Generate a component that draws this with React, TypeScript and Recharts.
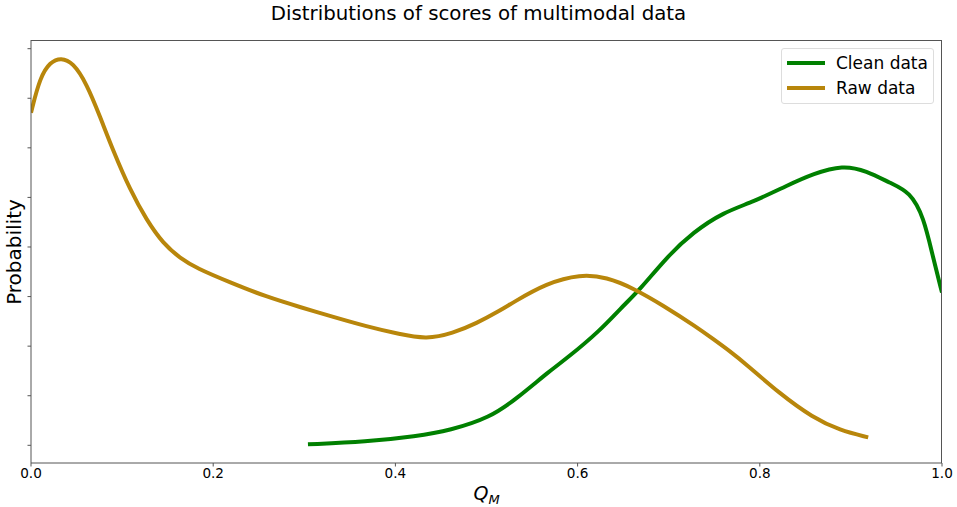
import { LineChart, Line, XAxis, YAxis } from "recharts";

// x positions (Q_M) and estimated density in tick units
const rawX = [0, 0.01, 0.021, 0.033, 0.046, 0.061, 0.076, 0.09, 0.109, 0.127, 0.145, 0.164, 0.182, 0.218, 0.259, 0.295, 0.332, 0.368, 0.405, 0.434, 0.463, 0.489, 0.515, 0.529, 0.566, 0.603, 0.632, 0.661, 0.694, 0.731, 0.749, 0.767, 0.786, 0.822, 0.858, 0.888, 0.919];
const rawY = [6.71, 7.43, 7.73, 7.82, 7.72, 7.3, 6.62, 5.95, 5.14, 4.54, 4.07, 3.77, 3.57, 3.29, 2.99, 2.79, 2.59, 2.4, 2.24, 2.14, 2.26, 2.46, 2.72, 2.88, 3.27, 3.45, 3.39, 3.17, 2.82, 2.38, 2.14, 1.9, 1.62, 1.04, 0.56, 0.3, 0.16];

const cleanX = [0.304, 0.368, 0.423, 0.46, 0.504, 0.533, 0.57, 0.588, 0.625, 0.647, 0.668, 0.698, 0.727, 0.76, 0.793, 0.83, 0.859, 0.891, 0.917, 0.943, 0.965, 0.98, 0.99, 1.0];
const cleanY = [0.02, 0.07, 0.18, 0.3, 0.56, 0.94, 1.51, 1.75, 2.32, 2.76, 3.13, 3.8, 4.3, 4.7, 4.91, 5.24, 5.48, 5.65, 5.54, 5.29, 5.11, 4.6, 3.8, 3.08];

const xTicks = [0, 0.2, 0.4, 0.6, 0.8, 1.0];
const yTicks = [0, 1, 2, 3, 4, 5, 6, 7, 8];

const series = [
  { name: "Clean data", color: "#008000", xs: cleanX, ys: cleanY },
  { name: "Raw data", color: "#b8860b", xs: rawX, ys: rawY },
];

const font = "DejaVu Sans, sans-serif";
const spine = "#555";

function LegendBox() {
  return (
    <div style={{ position: "absolute", left: 781, top: 48, width: 153, height: 56, border: "1px solid #ddd", borderRadius: 3, background: "#fff", boxSizing: "border-box", fontFamily: font, fontSize: 17, color: "#000" }}>
      {series.map((s, i) => (
        <div key={s.name} style={{ position: "absolute", left: 5, top: 3 + i * 25, display: "flex", alignItems: "center", height: 22 }}>
          <div style={{ width: 38, height: 4, background: s.color, marginRight: 11 }} />
          <span>{s.name}</span>
        </div>
      ))}
    </div>
  );
}

function QLabel(props: any) {
  const vb = props.viewBox || {};
  const cx = vb.x + vb.width / 2;
  return (
    <text x={cx} y={500} textAnchor="middle" fontFamily={font} fontStyle="italic" fontSize={19} fill="#000">
      Q<tspan fontSize={13} dy={4}>M</tspan>
    </text>
  );
}

export default function App() {
  return (
    <div style={{ position: "absolute", left: 0, top: 0, width: 957, height: 507, background: "#fff" }}>
      <div style={{ position: "absolute", left: 0, top: 2, width: 957, textAlign: "center", fontFamily: font, fontSize: 19.8, color: "#000" }}>
        Distributions of scores of multimodal data
      </div>
      <div style={{ position: "absolute", left: 14, top: 252, transform: "translate(-50%, -50%) rotate(-90deg)", fontFamily: font, fontSize: 20, whiteSpace: "nowrap", color: "#000" }}>
        Probability
      </div>
      <LineChart width={957} height={507} margin={{ top: 40, right: 15, bottom: 0, left: 0 }} style={{ position: "absolute", left: 0, top: 0 }}>
        <XAxis
          type="number"
          dataKey="x"
          domain={[0, 1]}
          ticks={xTicks}
          allowDataOverflow
          tickFormatter={(v: number) => v.toFixed(1)}
          height={44}
          tickSize={3.5}
          tickMargin={2}
          stroke={spine}
          tick={{ fill: "#000", fontSize: 13.6, fontFamily: font }}
          label={<QLabel />}
        />
        <YAxis
          type="number"
          domain={[-0.357, 8.175]}
          ticks={yTicks}
          allowDataOverflow
          width={31}
          tickSize={3.5}
          tickFormatter={() => ""}
          stroke={spine}
        />
        {series.map((s) => (
          <Line
            key={s.name}
            data={s.xs.map((x, i) => ({ x, y: s.ys[i] }))}
            dataKey="y"
            name={s.name}
            type="basis"
            stroke={s.color}
            strokeWidth={4}
            dot={false}
            isAnimationActive={false}
          />
        ))}
      </LineChart>
      {/* top and right spines */}
      <div style={{ position: "absolute", left: 31, top: 40, width: 911, height: 423, borderTop: `1px solid ${spine}`, borderRight: `1px solid ${spine}`, boxSizing: "border-box", pointerEvents: "none" }} />
      <LegendBox />
    </div>
  );
}
